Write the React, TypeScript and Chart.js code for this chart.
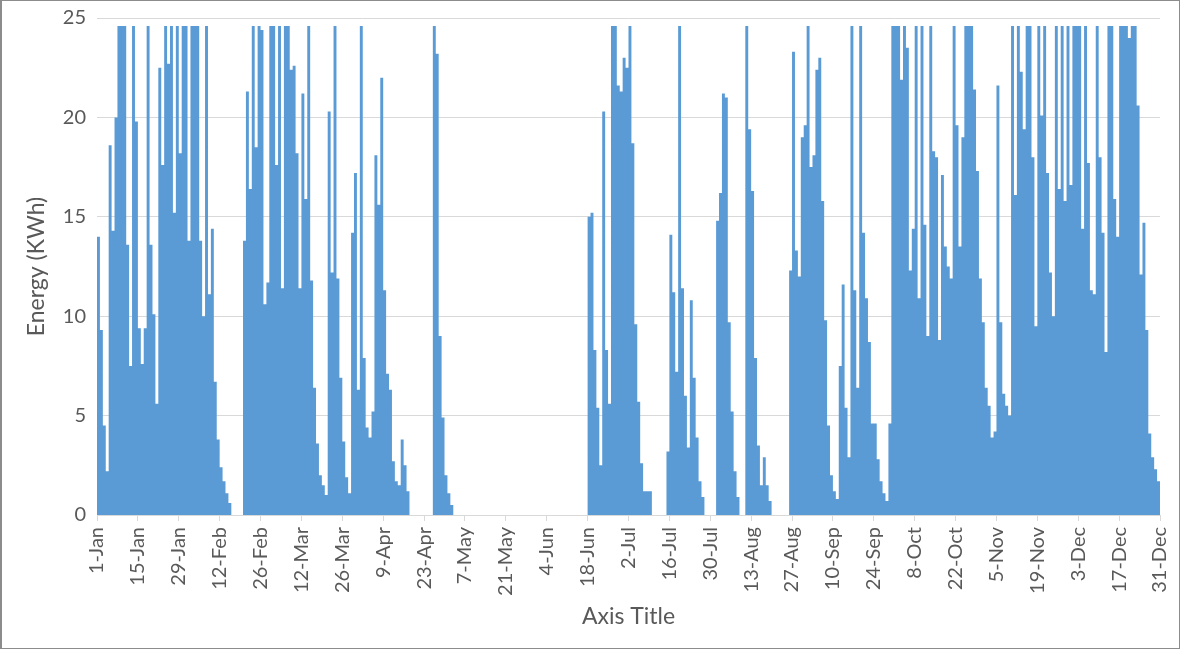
import React, { useEffect, useRef } from 'react';
import { Chart, registerables } from 'chart.js';

Chart.register(...registerables);

// Daily energy (KWh), one array per month (non-leap year, 365 days)
const jan = [14.0, 9.3, 4.5, 2.2, 18.6, 14.3, 20.0, 24.6, 24.6, 24.6, 13.6, 7.5, 24.6, 19.8, 9.4, 7.6, 9.4, 24.6, 13.6, 10.1, 5.6, 22.5, 17.6, 24.6, 22.7, 24.6, 15.2, 24.6, 18.2, 24.6, 24.6];
const feb = [13.8, 24.6, 24.6, 24.6, 13.8, 10.0, 24.6, 11.1, 14.4, 6.7, 3.8, 2.4, 1.7, 1.1, 0.6, 0, 0, 0, 0, 13.8, 21.3, 16.4, 24.6, 18.5, 24.6, 24.4, 10.6, 11.7];
const mar = [24.6, 24.6, 17.6, 24.6, 11.4, 24.6, 24.6, 22.4, 22.6, 18.2, 11.4, 21.2, 15.9, 24.6, 11.8, 6.4, 3.6, 2.0, 1.5, 1.0, 20.3, 12.2, 24.6, 11.9, 6.9, 3.7, 1.9, 1.1, 14.2, 17.2, 6.3];
const apr = [24.6, 7.9, 4.4, 3.9, 5.2, 18.1, 15.6, 22.0, 11.3, 7.1, 6.3, 2.7, 1.7, 1.5, 3.8, 2.5, 1.2, 0, 0, 0, 0, 0, 0, 0, 0, 24.6, 23.2, 9.0, 4.9, 2.0];
const may = [1.1, 0.5, 0, 0, 0, 0, 0, 0, 0, 0, 0, 0, 0, 0, 0, 0, 0, 0, 0, 0, 0, 0, 0, 0, 0, 0, 0, 0, 0, 0, 0];
const jun = [0, 0, 0, 0, 0, 0, 0, 0, 0, 0, 0, 0, 0, 0, 0, 0, 0, 15.0, 15.2, 8.3, 5.4, 2.5, 20.3, 8.3, 5.6, 24.6, 24.6, 21.6, 21.3, 23.0];
const jul = [22.5, 24.6, 18.7, 9.6, 5.7, 2.6, 1.2, 1.2, 1.2, 0, 0, 0, 0, 0, 3.2, 14.1, 11.2, 7.2, 24.6, 11.4, 6.0, 3.4, 10.8, 6.9, 3.9, 1.7, 0.9, 0, 0, 0, 0];
const aug = [14.8, 16.2, 21.2, 21.0, 9.7, 5.2, 2.2, 0.9, 0, 0, 24.6, 19.4, 16.3, 7.9, 3.5, 1.5, 2.9, 1.5, 0.7, 0, 0, 0, 0, 0, 0, 12.3, 23.3, 13.3, 12.0, 19.0, 19.6];
const sep = [24.6, 17.5, 18.1, 22.4, 23.0, 15.8, 9.8, 4.5, 2.0, 1.2, 0.8, 7.5, 11.6, 5.4, 2.9, 24.6, 11.3, 6.4, 24.6, 14.2, 10.9, 8.7, 4.6, 4.6, 2.8, 1.7, 1.1, 0.7, 4.6, 24.6];
const oct = [24.6, 24.6, 21.9, 24.6, 23.5, 12.3, 14.4, 24.6, 10.9, 24.6, 14.6, 9.0, 24.6, 18.3, 18.0, 8.8, 17.1, 13.5, 12.5, 11.9, 24.6, 19.6, 13.5, 19.0, 24.6, 24.6, 24.6, 21.4, 17.3, 11.9, 9.7];
const nov = [6.4, 5.5, 3.9, 4.2, 21.6, 9.7, 6.1, 5.5, 5.0, 24.6, 16.1, 24.6, 22.3, 19.4, 24.6, 24.6, 18.0, 9.5, 24.6, 20.1, 24.6, 17.2, 12.2, 10.0, 24.6, 16.4, 24.6, 15.8, 24.6, 16.6];
const dec = [24.6, 24.6, 24.6, 14.4, 24.6, 17.7, 11.3, 11.1, 24.6, 18.0, 14.2, 8.2, 24.6, 24.6, 15.9, 14.0, 24.6, 24.6, 24.6, 24.0, 24.6, 24.6, 20.6, 12.1, 14.7, 9.3, 4.1, 2.9, 2.3, 1.7, 1.7];

// X tick labels, one every 14 days
const tickLabels = ['1-Jan', '15-Jan', '29-Jan', '12-Feb', '26-Feb', '12-Mar', '26-Mar', '9-Apr', '23-Apr', '7-May', '21-May', '4-Jun', '18-Jun', '2-Jul', '16-Jul', '30-Jul', '13-Aug', '27-Aug', '10-Sep', '24-Sep', '8-Oct', '22-Oct', '5-Nov', '19-Nov', '3-Dec', '17-Dec', '31-Dec'];
const tickStepDays = 14;
const yTitle = 'Energy (KWh)';
const xTitle = 'Axis Title';

const TEXT = '#595959';
const GRID = '#d9d9d9';
const FILL = '#5b9bd5';

export default function App() {
  const ref = useRef<HTMLCanvasElement>(null);

  useEffect(() => {
    document.body.style.margin = '0';
    const energy = [...jan, ...feb, ...mar, ...apr, ...may, ...jun, ...jul, ...aug, ...sep, ...oct, ...nov, ...dec];
    const chart = new Chart(ref.current as HTMLCanvasElement, {
      type: 'line',
      data: {
        datasets: [
          {
            data: energy.map((y, x) => ({ x, y })),
            fill: 'origin',
            backgroundColor: FILL,
            borderColor: 'rgba(0,0,0,0)',
            borderWidth: 0,
            pointRadius: 0,
            stepped: 'before',
            tension: 0,
          },
        ],
      },
      options: {
        responsive: false,
        animation: false,
        devicePixelRatio: 1,
        layout: { padding: { top: 18, right: 20, left: 0, bottom: 0 } },
        font: { family: 'Lato' },
        plugins: { legend: { display: false }, tooltip: { enabled: false } },
        scales: {
          x: {
            type: 'linear',
            min: 0,
            max: 364,
            afterFit: (s: any) => {
              s.height = 134;
              s.paddingLeft = 0;
              s.paddingRight = 0;
            },
            ticks: {
              stepSize: tickStepDays,
              autoSkip: false,
              minRotation: 90,
              maxRotation: 90,
              padding: 6,
              color: TEXT,
              font: { family: 'Lato', size: 20 },
              callback: (v: any) => tickLabels[Math.round(Number(v) / tickStepDays)] ?? '',
            },
            grid: { drawOnChartArea: false, drawTicks: true, tickLength: 6, color: GRID },
            border: { display: true, color: GRID },
            title: {
              display: true,
              text: xTitle,
              color: TEXT,
              font: { family: 'Lato', size: 23 },
              padding: { top: 0, bottom: 19 },
            },
          },
          y: {
            min: 0,
            max: 25,
            afterFit: (s: any) => {
              s.width = 97;
              s.paddingTop = 0;
              s.paddingBottom = 0;
            },
            ticks: {
              stepSize: 5,
              padding: 11,
              color: TEXT,
              font: { family: 'Lato', size: 20 },
            },
            grid: { color: GRID, drawTicks: false },
            border: { display: false },
            title: {
              display: true,
              text: yTitle,
              color: TEXT,
              font: { family: 'Lato', size: 23 },
              padding: { top: 23, bottom: 0 },
            },
          },
        },
      },
    } as any);
    return () => chart.destroy();
  }, []);

  return (
    <div style={{ position: 'relative', width: 1180, height: 649, background: '#fff' }}>
      <canvas ref={ref} width={1180} height={649} style={{ display: 'block' }} />
      <div
        style={{
          position: 'absolute',
          inset: 0,
          border: '1px solid #8c8c8c',
          borderLeftWidth: 2,
          boxSizing: 'border-box',
          pointerEvents: 'none',
        }}
      />
    </div>
  );
}
